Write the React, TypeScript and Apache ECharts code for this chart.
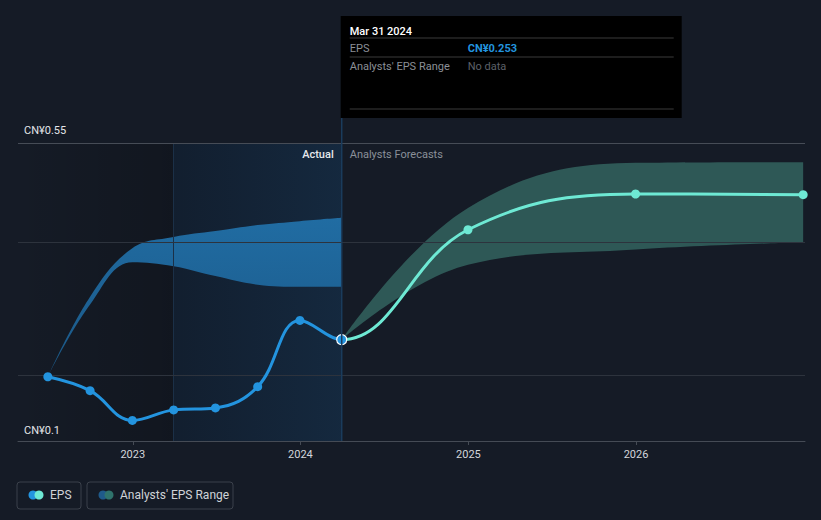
import React, { useEffect, useRef } from "react";
import * as echarts from "echarts";

const actualDates = ["2022-06-30", "2022-09-30", "2022-12-31", "2023-03-31", "2023-06-30", "2023-09-30", "2023-12-31", "2024-03-31"];
const epsActual = [0.197, 0.176, 0.131, 0.147, 0.150, 0.182, 0.282, 0.253];

const forecastEpsDates = ["2024-12-31", "2025-12-31", "2026-12-31"];
const epsForecast = [0.419, 0.473, 0.472];

const rangeDates = ["2022-06-30", "2022-09-30", "2022-12-31", "2023-03-31", "2023-06-30", "2023-09-30", "2023-12-31", "2024-03-31"];
const rangeLow = [0.197, 0.306, 0.370, 0.364, 0.349, 0.336, 0.333, 0.333];
const rangeHigh = [0.197, 0.318, 0.391, 0.408, 0.417, 0.426, 0.432, 0.437];

const forecastDates = ["2024-03-31", "2024-12-31", "2025-12-31", "2026-12-31"];
const forecastLow = [0.253, 0.366, 0.389, 0.400];
const forecastHigh = [0.253, 0.452, 0.520, 0.521];

const yearTicks = ["2023-01-01", "2024-01-01", "2025-01-01", "2026-01-01"];
const gridValues = [0.2, 0.4];
const yMin = 0.1;
const yMax = 0.55;
const xMinDate = "2022-04-26";
const xMaxDate = "2027-01-04";
const splitDate = "2024-03-31";
const lastYearDate = "2023-03-31";

const t = (d: string) => Date.parse(d + "T00:00:00Z");
const pairs = (ds: string[], vs: number[]) => ds.map((d, i) => [t(d), vs[i]]);
// value first, time second (so that stacking happens on the value dimension)
const vtPairs = (ds: string[], vs: number[]) => ds.map((d, i) => [vs[i], t(d)]);
const vtDiff = (ds: string[], lo: number[], hi: number[]) => ds.map((d, i) => [+(hi[i] - lo[i]).toFixed(4), t(d)]);

const FONT = "Roboto, 'Noto Sans', sans-serif";
const BLUE = "#2394df";
const AQUA = "#6ee9d4";
const W = 821;
const H = 520;

export default function App() {
  const ref = useRef<HTMLDivElement>(null);
  useEffect(() => {
    if (!ref.current) return;
    const chart = echarts.init(ref.current, null, { renderer: "svg" });
    const bandBase = {
      type: "line",
      smooth: 0.4,
      symbol: "none",
      lineStyle: { opacity: 0 },
      encode: { x: 1, y: 0 },
      silent: true,
      z: 2,
    };
    const epsData: any[] = [
      ...pairs(actualDates, epsActual).map((p, i, arr) =>
        i === arr.length - 1
          ? { value: p, symbolSize: 10, itemStyle: { color: BLUE, borderColor: "#ffffff", borderWidth: 1.2 } }
          : { value: p, itemStyle: { color: BLUE } }
      ),
      ...pairs(forecastEpsDates, epsForecast).map((p) => ({ value: p, itemStyle: { color: AQUA } })),
    ];
    const option: any = {
      animation: false,
      backgroundColor: "#151b26",
      textStyle: { fontFamily: FONT },
      grid: { left: 18, right: 16, top: 143, bottom: 79 },
      xAxis: {
        type: "value",
        min: t(xMinDate),
        max: t(xMaxDate),
        splitLine: { show: false },
        axisLine: { lineStyle: { color: "#454b55", width: 1 } },
        axisTick: { show: true, length: 4, lineStyle: { color: "#454b55" }, customValues: yearTicks.map(t) },
        axisLabel: {
          color: "#d3d6db",
          fontSize: 11,
          margin: 8,
          fontFamily: FONT,
          customValues: yearTicks.map(t),
          formatter: (v: number) => String(new Date(v).getUTCFullYear()),
        },
      },
      yAxis: {
        type: "value",
        min: yMin,
        max: yMax,
        splitLine: { show: false },
        axisLine: { show: false },
        axisTick: { show: false },
        axisLabel: { show: false },
      },
      series: [
        {
          ...bandBase,
          name: "pastLow",
          stack: "past",
          data: vtPairs(rangeDates, rangeLow),
          markArea: {
            silent: true,
            z: 1,
            data: [
              [
                {
                  xAxis: t(xMinDate),
                  itemStyle: {
                    color: new echarts.graphic.LinearGradient(0, 0, 1, 0, [
                      { offset: 0, color: "rgba(0,0,0,0)" },
                      { offset: 1, color: "rgba(0,0,0,0.18)" },
                    ]),
                  },
                },
                { xAxis: t(lastYearDate) },
              ],
              [
                {
                  xAxis: t(lastYearDate),
                  itemStyle: {
                    color: new echarts.graphic.LinearGradient(0, 0, 1, 0, [
                      { offset: 0, color: "rgba(10,40,70,0.28)" },
                      { offset: 1, color: "rgba(20,70,115,0.32)" },
                    ]),
                  },
                },
                { xAxis: t(splitDate) },
              ],
            ],
          },
          markLine: {
            silent: true,
            symbol: "none",
            animation: false,
            data: [
              { xAxis: t(lastYearDate), lineStyle: { color: "#1b3047", width: 1, type: "solid" }, label: { show: false } },
              ...gridValues.map((v) => ({ yAxis: v, lineStyle: { color: "#2d333d", width: 1, type: "solid" }, label: { show: false } })),
              {
                yAxis: yMax,
                lineStyle: { color: "#464c56", width: 1, type: "solid" },
                label: {
                  show: true,
                  position: "insideStartTop",
                  formatter: "CN¥0.55",
                  color: "#e3e5e8",
                  fontSize: 11,
                  fontFamily: FONT,
                  distance: [6, 7],
                },
              },
              {
                yAxis: yMin,
                lineStyle: { color: "rgba(0,0,0,0)", width: 1 },
                label: {
                  show: true,
                  position: "insideStartTop",
                  formatter: "CN¥0.1",
                  color: "#e3e5e8",
                  fontSize: 11,
                  fontFamily: FONT,
                  distance: [6, 5],
                },
              },
            ],
          },
        },
        {
          ...bandBase,
          name: "Analysts' EPS Range",
          stack: "past",
          areaStyle: {
            color: new echarts.graphic.LinearGradient(0, 0, 0, 1, [
              { offset: 0, color: "#2170a8" },
              { offset: 1, color: "#1b5b8c" },
            ]),
            opacity: 0.95,
          },
          data: vtDiff(rangeDates, rangeLow, rangeHigh),
        },
        {
          ...bandBase,
          name: "fcLow",
          stack: "fc",
          data: vtPairs(forecastDates, forecastLow),
        },
        {
          ...bandBase,
          name: "fcRange",
          stack: "fc",
          areaStyle: { color: "#2f5c59", opacity: 0.95 },
          data: vtDiff(forecastDates, forecastLow, forecastHigh),
        },
        {
          id: "eps",
          name: "EPS",
          type: "line",
          smooth: 0.4,
          symbol: "circle",
          symbolSize: 9,
          lineStyle: { width: 3, color: BLUE },
          itemStyle: { color: BLUE },
          data: epsData,
          z: 5,
        },
      ],
    };
    chart.setOption(option);

    const sx = chart.convertToPixel({ xAxisIndex: 0 }, t(splitDate)) as number;
    const topY = chart.convertToPixel({ yAxisIndex: 0 }, yMax) as number;
    const botY = chart.convertToPixel({ yAxisIndex: 0 }, yMin) as number;
    const f = Math.min(1, Math.max(0, sx / W));
    const lineGradient = new echarts.graphic.LinearGradient(
      0,
      0,
      W,
      0,
      [
        { offset: 0, color: BLUE },
        { offset: f, color: BLUE },
        { offset: f, color: AQUA },
        { offset: 1, color: AQUA },
      ],
      true
    );
    const boxX = sx - 1;
    const boxY = 16;
    const boxW = 341;
    const boxH = 102;
    chart.setOption({
      series: [{ id: "eps", lineStyle: { color: lineGradient } }],
      graphic: [
        { type: "line", shape: { x1: sx, y1: boxY + boxH, x2: sx, y2: botY }, style: { stroke: "#1a3c5c", lineWidth: 1.5 }, z: 10 },
        { type: "text", x: sx - 8, y: topY + 11, style: { text: "Actual", fill: "#e6e8eb", font: `500 11px ${FONT}`, textAlign: "right", textVerticalAlign: "middle" }, z: 10 },
        { type: "text", x: sx + 8, y: topY + 11, style: { text: "Analysts Forecasts", fill: "#8a9099", font: `11px ${FONT}`, textAlign: "left", textVerticalAlign: "middle" }, z: 10 },
        { type: "rect", shape: { x: boxX, y: boxY, width: boxW, height: boxH }, style: { fill: "#000000" }, z: 20 },
        { type: "text", x: boxX + 9, y: 31, style: { text: "Mar 31 2024", fill: "#ffffff", font: `500 11px ${FONT}`, textVerticalAlign: "middle" }, z: 21 },
        { type: "line", shape: { x1: boxX + 9, y1: 38, x2: boxX + 333, y2: 38 }, style: { stroke: "#3b3b3b", lineWidth: 1 }, z: 21 },
        { type: "text", x: boxX + 9, y: 48, style: { text: "EPS", fill: "#8b8f96", font: `11px ${FONT}`, textVerticalAlign: "middle" }, z: 21 },
        { type: "text", x: boxX + 127, y: 48, style: { text: "CN¥0.253", fill: BLUE, font: `bold 11px ${FONT}`, textVerticalAlign: "middle" }, z: 21 },
        { type: "line", shape: { x1: boxX + 9, y1: 57, x2: boxX + 333, y2: 57 }, style: { stroke: "#3b3b3b", lineWidth: 1 }, z: 21 },
        { type: "text", x: boxX + 9, y: 66, style: { text: "Analysts' EPS Range", fill: "#8b8f96", font: `11px ${FONT}`, textVerticalAlign: "middle" }, z: 21 },
        { type: "text", x: boxX + 127, y: 66, style: { text: "No data", fill: "#5d6168", font: `11px ${FONT}`, textVerticalAlign: "middle" }, z: 21 },
        { type: "line", shape: { x1: boxX + 9, y1: 109, x2: boxX + 333, y2: 109 }, style: { stroke: "#3b3b3b", lineWidth: 1 }, z: 21 },

        { type: "rect", shape: { x: 17, y: 482, width: 64, height: 27, r: 3 }, style: { fill: "none", stroke: "#3b414b", lineWidth: 1 }, z: 20 },
        { type: "circle", shape: { cx: 33, cy: 495, r: 4.5 }, style: { fill: BLUE }, z: 21 },
        { type: "circle", shape: { cx: 39, cy: 495, r: 4.5 }, style: { fill: AQUA }, z: 22 },
        { type: "text", x: 50, y: 495, style: { text: "EPS", fill: "#d0d3d8", font: `12px ${FONT}`, textVerticalAlign: "middle" }, z: 21 },
        { type: "rect", shape: { x: 87, y: 482, width: 146, height: 27, r: 3 }, style: { fill: "none", stroke: "#3b414b", lineWidth: 1 }, z: 20 },
        { type: "circle", shape: { cx: 103, cy: 495, r: 4.5 }, style: { fill: "#1f5a8a" }, z: 21 },
        { type: "circle", shape: { cx: 109, cy: 495, r: 4.5 }, style: { fill: "#2f736c" }, z: 22 },
        { type: "text", x: 120, y: 495, style: { text: "Analysts' EPS Range", fill: "#d0d3d8", font: `12px ${FONT}`, textVerticalAlign: "middle" }, z: 21 },
      ],
    });
    return () => chart.dispose();
  }, []);
  return <div ref={ref} style={{ position: "fixed", left: 0, top: 0, width: W, height: H }} />;
}
